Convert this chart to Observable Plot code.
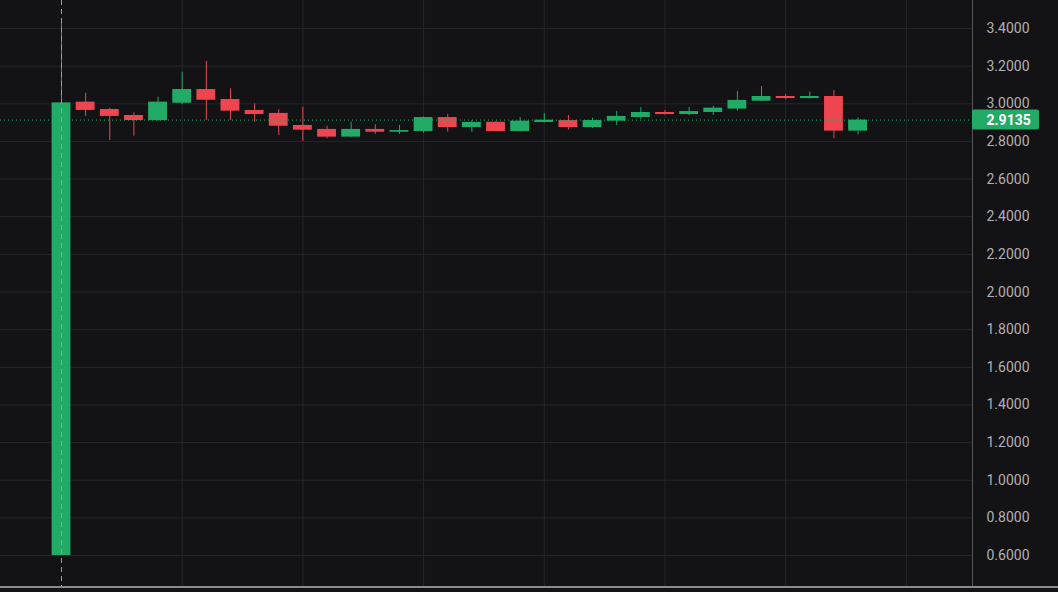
<!DOCTYPE html>
<html><head><meta charset="utf-8">
<script src="https://cdn.jsdelivr.net/npm/d3@7"></script>
<script src="https://cdn.jsdelivr.net/npm/@observablehq/plot@0.6"></script>
<style>html,body{margin:0;padding:0;background:#131316;overflow:hidden}</style>
</head><body><div id="chart"></div>
<script>
// ---- data ----
const bars  = d3.range(34);
const open  = [0.600,3.009,2.970,2.938,2.911,3.003,3.076,3.023,2.965,2.949,2.885,2.864,2.823,2.864,2.849,2.853,2.927,2.874,2.902,2.853,2.901,2.911,2.874,2.908,2.927,2.954,2.943,2.954,2.972,3.014,3.039,3.028,3.039,2.855];
const high  = [3.440,3.056,2.977,2.952,3.035,3.168,3.225,3.080,3.000,2.968,2.982,2.881,2.902,2.889,2.885,2.930,2.943,2.911,2.905,2.927,2.949,2.938,2.924,2.959,2.980,2.965,2.980,2.987,3.066,3.092,3.050,3.062,3.071,2.924];
const low   = [0.600,2.934,2.805,2.828,2.908,2.996,2.911,2.911,2.902,2.832,2.800,2.814,2.823,2.837,2.837,2.844,2.849,2.849,2.851,2.851,2.899,2.860,2.869,2.886,2.918,2.940,2.937,2.938,2.961,3.012,3.021,3.026,2.814,2.835];
const close = [3.005,2.965,2.933,2.911,3.009,3.076,3.019,2.961,2.943,2.881,2.860,2.823,2.864,2.849,2.858,2.927,2.874,2.901,2.853,2.908,2.913,2.874,2.911,2.933,2.954,2.943,2.959,2.977,3.018,3.039,3.028,3.039,2.855,2.9135];
const yTicks = [0.6,0.8,1.0,1.2,1.4,1.6,1.8,2.0,2.2,2.4,2.6,2.8,3.0,3.2,3.4];
const xGrid = [5,10,15,20,25,30,35];
const lastPrice = 2.9135;
const crosshairBar = 0;

// ---- layout / style ----
const xDomain = [-2.527, 37.74];
const yDomain = [0.43, 3.549];
const UP = "#22ab67", DOWN = "#ef4550", BG = "#131316", GRID = "#25252b";

const data = bars.map((b, i) => ({b, o: open[i], h: high[i], l: low[i], c: close[i], up: close[i] >= open[i]}));

const chart = Plot.plot({
  width: 1058, height: 592,
  marginLeft: 0, marginRight: 86, marginTop: 0, marginBottom: 5,
  style: {background: BG, fontFamily: "Roboto, 'Liberation Sans', sans-serif"},
  x: {type: "linear", domain: xDomain, axis: null},
  y: {domain: yDomain, axis: null},
  marks: [
    Plot.gridX(xGrid, {stroke: GRID, strokeOpacity: 1}),
    Plot.gridY(yTicks, {stroke: GRID, strokeOpacity: 1}),
    Plot.ruleX(data, {x: "b", y1: "l", y2: "h", stroke: d => d.up ? UP : DOWN, strokeWidth: 1}),
    Plot.rect(data, {x1: d => d.b - 0.39, x2: d => d.b + 0.39, y1: "o", y2: "c", fill: d => d.up ? UP : DOWN}),
    Plot.ruleY([lastPrice], {stroke: UP, strokeDasharray: "1,3", strokeWidth: 1}),
    Plot.ruleX([crosshairBar], {stroke: "#9a9ca4", strokeDasharray: "5,4", strokeWidth: 1}),
    Plot.ruleX([xDomain[1]], {stroke: "#55555c"}),
    Plot.text(yTicks, {x: xDomain[1], y: d => d, text: d => d.toFixed(4), dx: 14, textAnchor: "start", fill: "#aeb0b8", fontSize: 14}),
    Plot.rect([lastPrice], {x1: xDomain[1], x2: xDomain[1], y1: d => d, y2: d => d, insetRight: -67, insetTop: -10, insetBottom: -10, fill: UP, rx: 2}),
    Plot.text([lastPrice], {x: xDomain[1], y: d => d, text: d => d.toFixed(4), dx: 14, textAnchor: "start", fill: "#ffffff", fontSize: 14, fontWeight: "bold"})
  ]
});

const yb = chart.scale("y").apply(yDomain[0]);
d3.select(chart).append("line")
  .attr("x1", 0).attr("x2", 1058).attr("y1", yb).attr("y2", yb)
  .attr("stroke", "#8a8a90").attr("stroke-width", 2);

document.getElementById("chart").append(chart);
</script>
</body></html>
